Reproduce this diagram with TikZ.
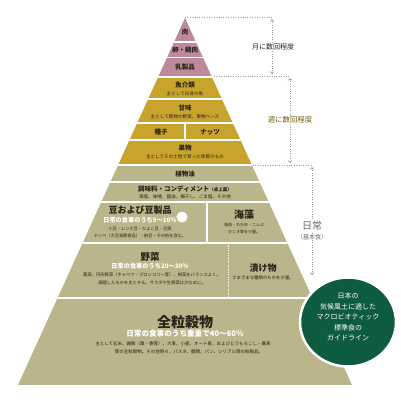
\documentclass[tikz,border=0pt]{standalone}
\usepackage{fontspec}
\setmainfont{Noto Sans CJK JP}
\usetikzlibrary{arrows.meta}
\definecolor{pinkc}{HTML}{BC8A9A}
\definecolor{yellowc}{HTML}{C9A42C}
\definecolor{olivec}{HTML}{BAB58B}
\definecolor{greenc}{HTML}{0D5C3F}
\definecolor{txt}{HTML}{2A2418}
\definecolor{dotc}{HTML}{9A9A9A}
\definecolor{weekc}{HTML}{6E5E18}
\definecolor{dailyc}{HTML}{6A6A6A}
\newcommand{\fsz}[1]{\fontsize{#1}{#1}\selectfont}
\begin{document}
\begin{tikzpicture}[x=1pt,y=-1pt,
  title/.style={font=\fsz{6.5}\bfseries, text=txt, inner sep=0},
  bigtitle/.style={font=\fsz{9}\bfseries, text=txt, inner sep=0},
  subt/.style={font=\fsz{4.6}, text=txt, inner sep=0},
  whitet/.style={font=\fsz{6.2}\bfseries, text=white, inner sep=0},
  sidelabel/.style={font=\fsz{7}, inner sep=1pt, fill=white},
  dotline/.style={dotc, line width=0.8pt, dash pattern=on 0.8pt off 1.6pt},
  vline/.style={dotline, {Straight Barb[length=1.8pt,width=3.5pt]}-{Straight Barb[length=1.8pt,width=3.5pt]}, shorten <=2pt, shorten >=2pt},
  sep/.style={white, line width=1.3pt}]
\useasboundingbox (0,0) rectangle (400,413);
\fill[white] (0,0) rectangle (400,413);
\coordinate (apex) at (185,18);
\coordinate (bl) at (18,385);
\coordinate (br) at (352,385);
\begin{scope}
  \clip (apex) -- (bl) -- (br) -- cycle;
  \fill[pinkc] (0,0) rectangle (400,75.5);
  \fill[yellowc] (0,77.5) rectangle (400,163.5);
  \fill[olivec] (0,166) rectangle (400,385);
  \draw[sep] (0,42) -- (400,42);
  \draw[sep] (0,57.5) -- (400,57.5);
  \draw[sep] (0,99) -- (400,99);
  \draw[sep] (0,123) -- (400,123);
  \draw[sep] (0,140) -- (400,140);
  \draw[sep] (185,123) -- (185,140);
  \draw[sep] (0,182) -- (400,182);
  \draw[sep] (0,202) -- (400,202);
  \draw[sep] (0,243) -- (400,243);
  \draw[sep] (0,298) -- (400,298);
  \draw[sep] (207,202) -- (207,243);
  \draw[white, line width=0.9pt, dash pattern=on 1.2pt off 1.2pt] (228,243) -- (228,298);
\end{scope}
% white blot on the 豆 tier
\fill[white] (182,217) circle (5.5);

% texts of the pyramid
\node[title] (niku) at (185,32) {肉};
\node[title] (tamago) at (185,50) {卵・鶏肉};
\node[title] (nyu) at (185,67) {乳製品};
\node[title] (gyo) at (185,85) {魚介類};
\node[subt] (gyos) at (185,93.5) {主として白身の魚};
\node[title] (kanmi) at (185,108) {甘味};
\node[subt] (kanmis) at (185,116.5) {主として穀物か野菜、果物ベース};
\node[title] (shushi) at (161,132) {種子};
\node[title] (nuts) at (210,132) {ナッツ};
\node[title] (kuda) at (185,148) {果物};
\node[subt] (kudas) at (185,156.5) {主としてその土地で育った季節のもの};
\node[title] (yushi) at (185,174) {植物油};
\node[title] (chomi) at (185,188.5) {調味料・コンディメント\fsz{4.5}（卓上薬）};
\node[subt] (chomis) at (185,196.5) {海塩、味噌、醤油、梅干し、ごま塩、その他};
\node[bigtitle] (mame) at (140,210.5) {豆および豆製品};
\node[whitet] (mamew) at (140,220) {日常の食事のうち5～10％};
\node[subt, font=\fsz{4.2}] (mames1) at (140,228.5) {小豆・レンズ豆・ひよこ豆・豆腐};
\node[subt, font=\fsz{4.2}] (mames2) at (140,236) {テンペ（大豆発酵食品）・納豆・その他を含む。};
\node[bigtitle, font=\fsz{10}\bfseries] (kaiso) at (244,215) {海藻};
\node[subt, font=\fsz{4}] (kaisos1) at (244,225) {海苔・わかめ・こんぶ};
\node[subt, font=\fsz{4}] (kaisos2) at (244,232) {ひじき等を少量。};
\node[bigtitle, font=\fsz{9.5}\bfseries] (yasai) at (150,257) {野菜};
\node[whitet] (yasaiw) at (150,266.5) {日常の食事のうち20～30％};
\node[subt, font=\fsz{4.3}] (yasais1) at (152,275) {葉菜、円形野菜（キャベツ・ブロッコリー等）、根菜をバランスよく。};
\node[subt, font=\fsz{4.3}] (yasais2) at (152,283) {調理したものを主とする。サラダや生野菜は少なめに。};
\node[bigtitle, font=\fsz{9}\bfseries] (tsuke) at (263,268) {漬け物};
\node[subt, font=\fsz{4.4}] (tsukes) at (263,278) {さまざまな種類のものを少量。};
\node[bigtitle, font=\fsz{14}\bfseries] (zenryu) at (185,322) {全粒穀物};
\node[whitet, font=\fsz{7.6}\bfseries] (zenryuw) at (185,333.5) {日常の食事のうち重量で40～60％};
\node[subt, font=\fsz{4.5}] (zenryus1) at (183,344) {主として玄米、雑穀（粟・黍等）、大麦、小麦、オート麦、およびとうもろこし・蕎麦};
\node[subt, font=\fsz{4.5}] (zenryus2) at (189,352) {等の全粒穀物。その他時々、パスタ、麺類、パン、シリアル等の粉製品。};

% brackets on the right
\coordinate (m1) at (185,17);
\coordinate (m2) at (272,17);
\coordinate (m3) at (272,76);
\coordinate (w0) at (214,76);
\coordinate (w1) at (290,76);
\coordinate (w2) at (290,165);
\coordinate (d0) at (253,165);
\coordinate (d1) at (312,165);
\coordinate (d2) at (312,277);
\draw[dotline] (m1) -- (m2);
\draw[dotline] (w0) -- (w1);
\draw[dotline] (d0) -- (d1);
\draw[vline] (m2) -- (m3);
\draw[vline] (w1) -- (w2);
\draw[vline] (d1) -- (d2);
\node[sidelabel, text=txt] (monthly) at (273,47) {月に数回程度};
\node[sidelabel, text=weekc, font=\fsz{7.4}] (weekly) at (290,120) {週に数回程度};
\node[sidelabel, text=dailyc, font=\fsz{10}, inner sep=0.5pt] (daily) at (312,226) {日常};
\node[text=dailyc, font=\fsz{6}, fill=white, inner sep=0.5pt] (dailys) at (312,237) {（基本食）};

% green circle
\fill[greenc] (348,322) ellipse (48 and 44.5);
\draw[white, line width=2.5pt] (348,322) ellipse (48 and 44.5);
\node[text=white, font=\fsz{7}, align=center, inner sep=0] (guide) at (348,317) {日本の\\[3.5pt]気候風土に適した\\[3.5pt]マクロビオティック\\[3.5pt]標準食の\\[3.5pt]ガイドライン};
\end{tikzpicture}
\end{document}
